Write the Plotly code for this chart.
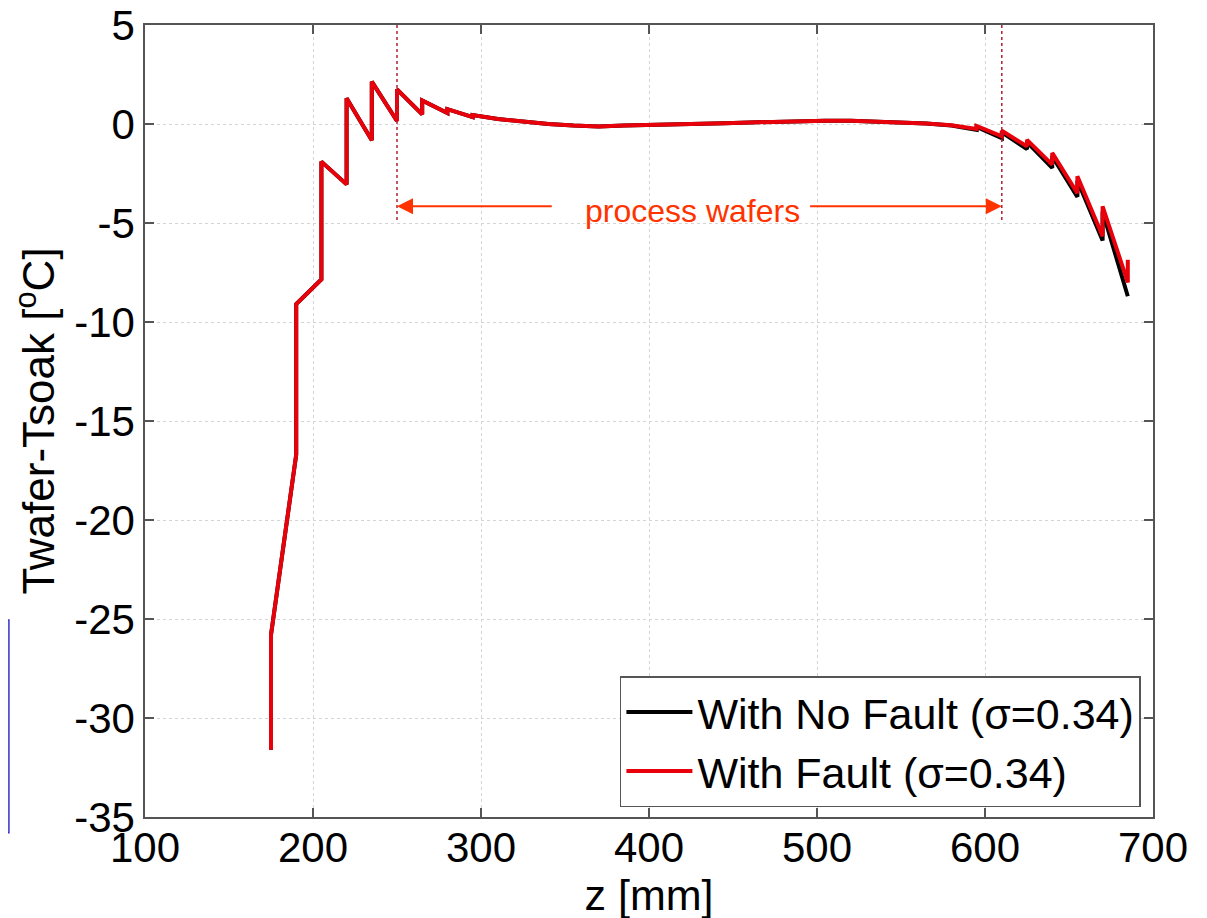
import plotly.graph_objects as go

# ---- data ----
z_fault = [175, 175, 190, 190, 205, 205, 220, 220, 235, 235, 250, 250, 265, 265,
           280, 280, 295, 295, 310, 325, 340, 355, 370, 385, 400, 415, 430, 445,
           460, 475, 490, 505, 520, 535, 550, 565, 580, 595, 595, 610, 610, 625,
           625, 640, 640, 655, 655, 670, 670, 685, 685]
t_fault = [-31.6, -25.8, -16.7, -9.1, -7.85, -1.9, -3.05, 1.3, -0.82, 2.14, 0.15, 1.75,
           0.49, 1.19, 0.55, 0.75, 0.35, 0.45, 0.25, 0.1, 0.0, -0.08, -0.12, -0.08,
           -0.06, -0.03, 0.0, 0.04, 0.08, 0.12, 0.15, 0.17, 0.16, 0.13, 0.1, 0.03,
           -0.06, -0.25, -0.1, -0.62, -0.34, -1.13, -0.8, -2.05, -1.46, -3.5, -2.64,
           -5.67, -4.16, -8.0, -6.85]

z_nofault = [175, 175, 190, 190, 205, 205, 220, 220, 235, 235, 250, 250, 265, 265,
             280, 280, 295, 295, 310, 325, 340, 355, 370, 385, 400, 415, 430, 445,
             460, 475, 490, 505, 520, 535, 550, 565, 580, 595, 595, 610, 610, 625,
             625, 640, 640, 655, 655, 670, 670, 685]
t_nofault = [-31.6, -25.8, -16.7, -9.1, -7.85, -1.9, -3.05, 1.3, -0.82, 2.14, 0.15, 1.75,
             0.49, 1.19, 0.55, 0.75, 0.35, 0.45, 0.25, 0.1, 0.0, -0.08, -0.12, -0.08,
             -0.06, -0.03, 0.0, 0.04, 0.08, 0.12, 0.15, 0.17, 0.16, 0.13, 0.1, 0.03,
             -0.08, -0.3, -0.15, -0.72, -0.42, -1.27, -0.92, -2.22, -1.62, -3.68, -2.85,
             -5.88, -4.42, -8.7]

x_ticks = [100, 200, 300, 400, 500, 600, 700]
x_tick_labels = ["100", "200", "300", "400", "500", "600", "700"]
y_ticks = [5, 0, -5, -10, -15, -20, -25, -30, -35]
y_tick_labels = ["5", "0", "-5", "-10", "-15", "-20", "-25", "-30", "-35"]
wafer_bounds = [250, 610]
arrow_tails = [343, 495]
arrow_level = -4.15

FONT = "Liberation Sans, Arial, sans-serif"
ORANGE = "#ff3300"

fig = go.Figure()
fig.add_trace(go.Scatter(x=z_nofault, y=t_nofault, mode="lines",
                         line=dict(color="black", width=4),
                         name="With No Fault (σ=0.34)"))
fig.add_trace(go.Scatter(x=z_fault, y=t_fault, mode="lines",
                         line=dict(color="#e8000b", width=4),
                         name="With Fault (σ=0.34)"))

for zb in wafer_bounds:
    fig.add_shape(type="line", xref="x", yref="y", x0=zb, x1=zb, y0=5, y1=-5,
                  line=dict(color="#b02030", width=1.5, dash="dot"))

# arrows
for head, tail in zip(wafer_bounds, arrow_tails):
    fig.add_annotation(x=head, y=arrow_level, ax=tail, ay=arrow_level, axref="x", ayref="y",
                       xref="x", yref="y", text="", showarrow=True, arrowhead=2,
                       arrowsize=1.6, arrowwidth=2, arrowcolor=ORANGE)
fig.add_annotation(x=(arrow_tails[0] + arrow_tails[1]) / 2 + 7, y=-4.4, xref="x", yref="y",
                   text="process wafers", showarrow=False,
                   font=dict(family=FONT, size=32, color=ORANGE))

# clipped yellow box at left edge
fig.add_shape(type="rect", xref="paper", yref="paper", x0=-0.2, x1=-0.135,
              y0=-0.02, y1=0.2487, fillcolor="#ffffa8",
              line=dict(color="#3333cc", width=1.5), layer="below")

axis_common = dict(showline=True, linecolor="#555555", linewidth=1.5, mirror="allticks",
                   ticks="inside", ticklen=9, tickcolor="#555555", tickwidth=1.5,
                   showgrid=True, gridcolor="#d4d4d4", griddash="dot", gridwidth=1,
                   zeroline=False, automargin=False, ticklabeloverflow="allow",
                   tickfont=dict(family=FONT, size=42, color="black"))

fig.update_xaxes(range=[100, 700], tickvals=x_ticks, ticktext=x_tick_labels, **axis_common,
                 ticklabelstandoff=-7,
                 title=dict(text="z [mm]", font=dict(family=FONT, size=43, color="black"),
                            standoff=0))
fig.update_yaxes(range=[-35, 5], tickvals=y_ticks, ticktext=y_tick_labels, **axis_common,
                 title=dict(text="Twafer-Tsoak [<sup>o</sup>C]",
                            font=dict(family=FONT, size=44, color="black"), standoff=6))

fig.update_layout(
    width=1207, height=918,
    margin=dict(l=137, r=62, t=17, b=109),
    paper_bgcolor="white", plot_bgcolor="white",
    font=dict(family=FONT, color="black"),
    legend=dict(x=0.988, y=0.0125, xanchor="right", yanchor="bottom",
                bgcolor="white", bordercolor="#555555", borderwidth=1.5,
                font=dict(family=FONT, size=43, color="black"),
                itemwidth=66, tracegroupgap=0),
    showlegend=True,
)

fig.write_html("out.html")
